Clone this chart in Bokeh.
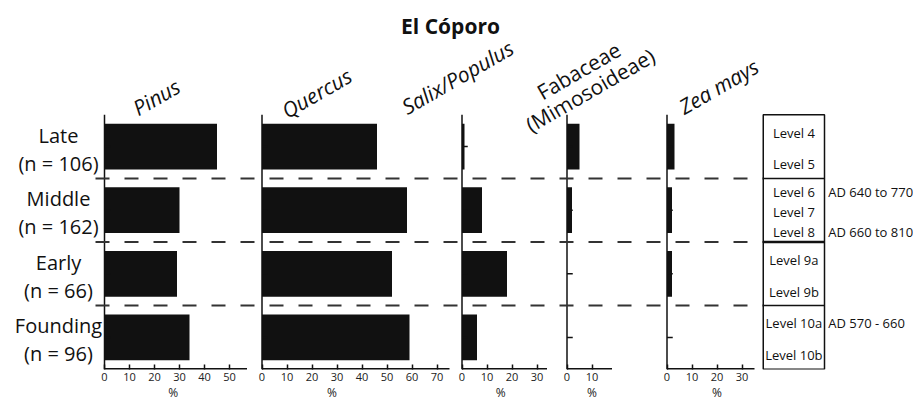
import math
import numpy as np
from bokeh.plotting import figure
from bokeh.models import FixedTicker, LinearAxis, Range1d
from bokeh.core.properties import value
from bokeh.embed import file_html
from bokeh.resources import INLINE

# ---------------- data ----------------
chart_title = "El Cóporo"
phases = ["Late", "Middle", "Early", "Founding"]
sample_n = [106, 162, 66, 96]
taxa = ["Pinus", "Quercus", "Salix/Populus", "Fabaceae (Mimosoideae)", "Zea mays"]
pinus = [45, 30, 29, 34]
quercus = [46, 58, 52, 59]
salix_populus = [1, 8, 18, 6]
fabaceae = [5, 2, 0, 0]
zea_mays = [3, 2, 2, 0]
axis_max = [57, 75, 34, 18, 35]
tick_step = 10
unit_label = "%"
levels = [["Level 4", "Level 5"],
          ["Level 6", "Level 7", "Level 8"],
          ["Level 9a", "Level 9b"],
          ["Level 10a", "Level 10b"]]
level_dates = {"Level 6": "AD 640 to 770",
               "Level 8": "AD 660 to 810",
               "Level 10a": "AD 570 - 660"}

series = [pinus, quercus, salix_populus, fabaceae, zea_mays]

# ---------------- layout ----------------
FONT = value("Open Sans")
INK = "#111111"
PANEL_X = [0, 63, 143, 185, 225]          # where each panel's zero sits
TITLE_LINES = [["Pinus"], ["Quercus"], ["Salix/Populus"],
               ["Fabaceae", "(Mimosoideae)"], ["Zea mays"]]
TITLE_ITALIC = [True, True, True, False, True]
TITLE_ANCHORS = [[(12.0, 3.58)], [(8.6, 3.54)], [(-23.4, 3.60)],
                 [(-11.3, 3.83), (-15.8, 3.32)], [(5.4, 3.60)]]
TITLE_ANGLE = math.radians(30)
PCT_X = [27.5, 28, 15.5, 10, 20]
BOX_X0, BOX_X1 = 263.5, 288.0
DATE_X = 289.5
LABEL_X = -18.4
BAR_H = 0.72

n = len(phases)
ycat = [n - 1 - i for i in range(n)]
mids = [y + 0.5 for y in ycat[1:]]

W, H = 913, 403
FRAME_H = 369
Y0 = -0.505
p = figure(width=W, height=H, output_backend="svg", toolbar_location=None,
           title=None,
           x_range=Range1d(-41.6, -41.6 + W / 2.5),
           y_range=Range1d(Y0, Y0 + FRAME_H / 63.6),
           y_axis_location=None, min_border_left=0, min_border_right=0,
           min_border_top=0, min_border_bottom=H - FRAME_H)
p.outline_line_color = None
p.grid.visible = False
p.background_fill_color = "white"
p.border_fill_color = "white"

# bars
for off, vals in zip(PANEL_X, series):
    v = np.array(vals, dtype=float)
    p.hbar(y=ycat, left=off, right=off + v, height=BAR_H,
           fill_color=INK, line_color=None)

# panel axes
offs = np.array(PANEL_X, dtype=float)
p.segment(x0=offs, y0=-0.5, x1=offs, y1=n - 0.5, line_color=INK, line_width=1.5)
p.segment(x0=offs, y0=-0.5, x1=offs + np.array(axis_max), y1=-0.5,
          line_color=INK, line_width=2.6)
tx, ty = [], []
for off in PANEL_X:
    for y in ycat:
        tx.append(off); ty.append(y)
p.segment(x0=tx, y0=ty, x1=np.array(tx) + 2.3, y1=ty, line_color=INK, line_width=1.5)

# dashed phase separators
p.segment(x0=-3.6, y0=mids, x1=BOX_X0, y1=mids, line_color="#333333",
          line_width=2, line_dash="14 15")

# level box
p.quad(left=BOX_X0, right=BOX_X1, bottom=-0.5, top=n - 0.5,
       fill_color=None, line_color=INK, line_width=1.5)
p.segment(x0=BOX_X0, y0=mids, x1=BOX_X1, y1=mids, line_color=INK,
          line_width=[1.5, 2.5, 1.5])
lv_text, lv_y, dt_text, dt_y = [], [], [], []
for y, lv in zip(ycat, levels):
    k = len(lv)
    step = 0.5 if k == 2 else 0.31
    for j, name in enumerate(lv):
        yy = y - 0.03 + ((k - 1) / 2 - j) * step
        lv_text.append(name); lv_y.append(yy)
        if name in level_dates:
            dt_text.append(level_dates[name]); dt_y.append(yy)
p.text(x=(BOX_X0 + BOX_X1) / 2, y=lv_y, text=lv_text, text_font=FONT,
       text_font_size="13px", text_align="center", text_baseline="middle",
       text_color=INK)
p.text(x=DATE_X, y=dt_y, text=dt_text, text_font=FONT, text_font_size="13px",
       text_align="left", text_baseline="middle", text_color=INK)

# phase labels
p.text(x=LABEL_X, y=[y + 0.18 for y in ycat], text=phases, text_font=FONT,
       text_font_size="20px", text_align="center", text_baseline="middle",
       text_color=INK)
p.text(x=LABEL_X, y=[y - 0.26 for y in ycat], text=[f"(n = {s})" for s in sample_n],
       text_font=FONT, text_font_size="20px", text_align="center",
       text_baseline="middle", text_color=INK)

# chart title
p.text(x=138.4, y=4.89, text=[chart_title], text_font=FONT, text_font_size="21px",
       text_font_style="bold", text_align="center", text_baseline="middle",
       text_color=INK)

# panel titles
for off, lines, anchors, ital in zip(PANEL_X, TITLE_LINES, TITLE_ANCHORS, TITLE_ITALIC):
    for line, (ax_, ay) in zip(lines, anchors):
        p.text(x=off + ax_, y=ay, text=[line], angle=TITLE_ANGLE, text_font=FONT,
               text_font_size="21px", text_font_style="italic" if ital else "normal",
               text_align="left", text_baseline="alphabetic", text_color=INK)

# x axis: one ticker serving every panel
ticks, overrides = [], {}
for off, mx in zip(PANEL_X, axis_max):
    for t in range(0, mx + 1, tick_step):
        ticks.append(off + t)
        overrides[off + t] = str(t)
ax = p.xaxis[0]
ax.ticker = FixedTicker(ticks=ticks, minor_ticks=[])
ax.major_label_overrides = overrides
ax.axis_line_color = None
ax.major_tick_in = 5
ax.major_tick_out = 0
ax.major_tick_line_color = INK
ax.major_tick_line_width = 1.5
ax.minor_tick_line_color = None
ax.major_label_standoff = 3
ax.major_label_text_font = "Open Sans"
ax.major_label_text_font_size = "11px"
ax.major_label_text_color = "#222222"

# second row under the ticks: the unit of each panel
pct_pos = [o + d for o, d in zip(PANEL_X, PCT_X)]
unit_axis = LinearAxis(ticker=FixedTicker(ticks=pct_pos, minor_ticks=[]),
                       major_label_overrides={v: unit_label for v in pct_pos},
                       axis_line_color=None, major_tick_line_color=None,
                       minor_tick_line_color=None, major_tick_in=0,
                       major_tick_out=0, major_label_standoff=0,
                       major_label_text_font="Open Sans",
                       major_label_text_font_size="12px",
                       major_label_text_color="#222222")
p.add_layout(unit_axis, "below")

open("out.html", "w").write(file_html(p, INLINE))
